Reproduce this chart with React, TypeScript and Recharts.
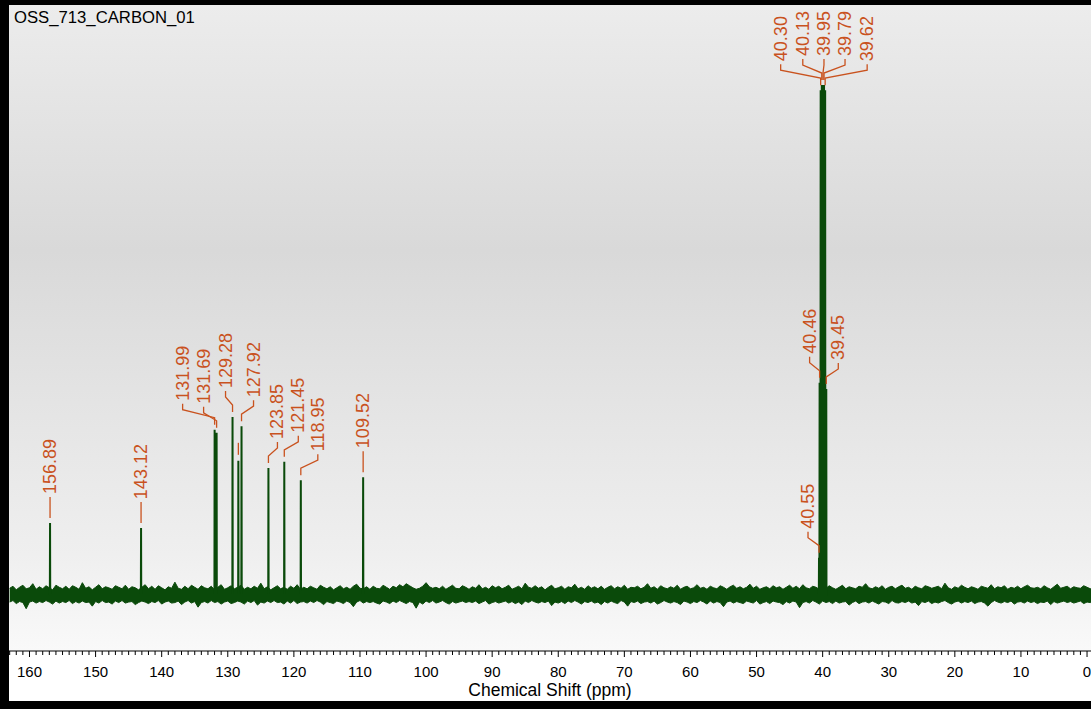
import React from "react";
import {
  ComposedChart,
  Area,
  Line,
  Scatter,
  XAxis,
  YAxis,
} from "recharts";

const FONT = "Arial, 'Liberation Sans', sans-serif";
const GREEN = "#0a4a0a";
const ORANGE = "#c9521e";

// peaks (ppm, relative height, label text)
const PEAK_PPM = [
  156.89, 143.12, 131.99, 131.69, 129.28, 128.4, 127.92, 123.85, 121.45, 118.95,
  109.52, 40.55, 40.46, 40.3, 40.13, 39.95, 39.79, 39.62, 39.45,
];
const PEAK_HEIGHT = [
  14.1, 13.1, 32.4, 31.8, 34.9, 26.3, 33.1, 24.9, 26.1, 22.5, 23.1, 7.3, 41.6, 99,
  100, 100, 100, 99, 40.4,
];
const PEAK_LABEL = [
  "156.89", "143.12", "131.99", "131.69", "129.28", "", "127.92", "123.85",
  "121.45", "118.95", "109.52", "40.55", "40.46", "40.30", "40.13", "39.95",
  "39.79", "39.62", "39.45",
];

// baseline noise envelope, one value every 0.5 ppm from 163 down to -1
const NOISE_HI = [
  1.3, 1.7, 1.0, 1.5, 1.9, 1.2, 1.4, 2.2, 1.1, 1.6,
  1.2, 1.8, 1.4, 1.0, 1.9, 1.5, 1.2, 1.7, 1.1, 1.8,
  1.5, 1.1, 2.4, 1.3, 1.6, 1.0, 1.5, 2.0, 1.2, 1.6,
  1.4, 1.1, 1.8, 1.5, 1.2, 1.9, 1.1, 1.6, 1.4, 1.0,
  1.5, 2.0, 1.2, 1.7, 1.1, 1.8, 1.4, 1.0, 1.6, 1.3,
  2.5, 1.3, 1.1, 1.7, 1.2, 1.9, 1.5, 1.1, 1.8, 1.4,
  1.2, 1.7, 1.0, 1.5, 2.0, 1.1, 1.4, 1.8, 1.2, 1.5,
  1.9, 1.1, 1.5, 1.2, 1.7, 1.3, 2.3, 1.2, 1.6, 1.0,
  1.4, 1.8, 1.2, 1.5, 1.1, 1.7, 1.3, 2.0, 1.1, 1.5,
  1.2, 1.7, 1.4, 1.1, 1.9, 1.5, 1.2, 1.6, 1.0, 1.4,
  1.8, 1.2, 1.5, 1.1, 1.7, 2.1, 1.3, 1.2, 1.6, 1.1,
  1.7, 1.3, 1.2, 1.9, 1.5, 1.1, 1.7, 1.4, 2.0, 1.6,
  2.2, 1.8, 1.4, 1.1, 1.3, 1.7, 2.4, 1.6, 1.3, 1.5,
  1.2, 1.7, 1.1, 1.5, 1.9, 1.3, 1.2, 1.8, 1.5, 1.1,
  1.6, 1.3, 2.0, 1.2, 1.5, 1.1, 1.8, 1.4, 1.7, 1.2,
  1.5, 1.9, 1.1, 1.4, 1.7, 1.2, 2.3, 1.5, 1.3, 1.8,
  1.3, 1.6, 1.0, 1.5, 1.9, 1.2, 1.4, 1.7, 1.1, 1.6,
  1.4, 2.1, 1.2, 1.5, 1.1, 1.8, 1.3, 1.6, 1.2, 1.7,
  1.1, 1.5, 1.8, 1.2, 1.6, 1.3, 1.9, 1.1, 1.5, 1.4,
  1.7, 1.2, 1.5, 2.2, 1.3, 1.6, 1.1, 1.8, 1.4, 1.2,
  1.6, 1.3, 1.9, 1.1, 1.5, 1.7, 1.2, 1.4, 2.0, 1.3,
  1.5, 1.1, 1.7, 1.4, 1.2, 1.8, 1.5, 1.1, 1.6, 1.9,
  1.3, 1.6, 1.2, 1.5, 2.1, 1.3, 1.7, 1.1, 1.4, 1.6,
  1.2, 1.8, 1.4, 1.6, 1.1, 1.5, 1.9, 1.3, 1.7, 1.2,
  2.0, 1.4, 1.2, 1.7, 1.5, 1.1, 1.6, 1.3, 1.8, 1.4,
  1.1, 1.5, 1.9, 1.2, 1.6, 1.4, 1.2, 1.7, 1.5, 2.2,
  1.4, 1.2, 1.6, 1.3, 1.8, 1.1, 1.5, 1.7, 1.2, 1.6,
  1.9, 1.3, 1.5, 1.1, 1.7, 1.4, 1.2, 1.8, 1.6, 1.3,
  1.5, 1.7, 1.2, 2.3, 1.4, 1.1, 1.6, 1.3, 1.9, 1.5,
  1.2, 1.6, 1.4, 1.1, 1.7, 1.5, 1.3, 2.0, 1.2, 1.6,
  1.4, 1.8, 1.1, 1.5, 1.3, 1.7, 1.2, 1.6, 1.9, 1.4,
  1.3, 1.5, 1.2, 1.8, 1.4, 1.1, 1.6, 2.1, 1.3, 1.5,
  1.7, 1.2, 1.6, 1.4, 1.3, 1.8, 1.5, 1.2, 1.5,
];
const NOISE_LO = [
  -1.4, -1.1, -1.7, -1.3, -1.5, -2.7, -1.4, -1.2, -1.6, -1.3,
  -1.5, -1.1, -1.4, -1.8, -1.2, -1.6, -1.3, -1.5, -1.1, -1.7,
  -1.3, -1.6, -1.2, -1.5, -1.4, -2.2, -1.3, -1.6, -1.1, -1.5,
  -1.4, -1.8, -1.2, -1.5, -1.1, -1.6, -1.4, -1.3, -1.9, -1.5,
  -1.2, -1.4, -1.7, -1.3, -1.5, -1.1, -1.8, -1.4, -1.2, -1.6,
  -1.5, -1.2, -1.9, -1.4, -1.1, -1.6, -1.3, -2.4, -1.5, -1.3,
  -1.6, -1.1, -1.5, -1.3, -1.8, -1.4, -1.2, -1.7, -1.5, -1.2,
  -1.4, -1.8, -1.2, -1.5, -1.1, -2.0, -1.4, -1.6, -1.2, -1.5,
  -1.1, -1.5, -1.4, -1.8, -1.2, -1.6, -1.1, -1.7, -1.4, -1.3,
  -1.6, -1.2, -1.5, -1.1, -1.4, -1.9, -1.3, -1.5, -1.7, -1.2,
  -1.4, -1.7, -1.2, -1.5, -2.3, -1.4, -1.1, -1.6, -1.3, -1.5,
  -1.3, -1.6, -1.8, -1.2, -1.4, -1.7, -1.2, -1.5, -1.1, -1.4,
  -1.7, -1.3, -1.5, -2.6, -1.4, -1.8, -1.2, -1.5, -1.1, -1.6,
  -1.4, -1.1, -1.5, -1.8, -1.3, -1.6, -1.4, -1.2, -1.5, -1.3,
  -1.5, -1.2, -1.7, -1.4, -1.1, -1.8, -1.5, -1.3, -1.6, -1.4,
  -1.2, -1.6, -1.3, -1.7, -1.4, -1.9, -1.2, -1.5, -1.1, -1.4,
  -1.6, -1.3, -1.5, -1.2, -2.1, -1.4, -1.6, -1.3, -1.7, -1.2,
  -1.5, -1.1, -1.4, -1.8, -1.3, -1.5, -1.2, -1.6, -1.4, -1.9,
  -1.3, -1.6, -1.2, -1.5, -1.7, -1.1, -1.4, -2.2, -1.3, -1.5,
  -1.2, -1.7, -1.4, -1.3, -1.6, -1.2, -1.8, -1.5, -1.1, -1.4,
  -1.6, -1.3, -1.5, -1.9, -1.2, -1.4, -1.7, -1.3, -1.5, -1.1,
  -1.4, -1.8, -1.2, -1.6, -1.3, -1.5, -2.3, -1.4, -1.2, -1.6,
  -1.3, -1.5, -1.7, -1.2, -1.4, -1.6, -1.1, -1.8, -1.5, -1.3,
  -1.7, -1.2, -1.4, -1.5, -1.9, -1.3, -1.6, -1.2, -1.4, -2.5,
  -1.5, -1.3, -1.6, -1.1, -1.4, -1.8, -1.2, -1.5, -1.3, -1.7,
  -1.2, -1.6, -1.4, -1.3, -2.0, -1.5, -1.2, -1.7, -1.4, -1.3,
  -1.6, -1.2, -1.5, -1.8, -1.3, -1.4, -1.7, -1.1, -1.5, -1.6,
  -1.3, -1.5, -1.2, -1.6, -1.4, -2.1, -1.3, -1.5, -1.2, -1.7,
  -1.4, -1.6, -1.3, -1.1, -1.5, -1.8, -1.4, -1.2, -1.6, -1.3,
  -1.5, -1.2, -1.7, -1.4, -1.3, -1.6, -2.2, -1.5, -1.1, -1.4,
  -1.6, -1.3, -1.5, -1.2, -1.8, -1.4, -1.3, -1.6, -1.2, -1.5,
  -1.3, -1.7, -1.4, -1.5, -1.2, -1.9, -1.3, -1.6, -1.4, -1.2,
  -1.5, -1.3, -1.6, -1.4, -1.2, -1.7, -1.4, -1.5, -1.3,
];
const NOISE_START_PPM = 163;
const NOISE_STEP_PPM = 0.5;

const X_TICKS = Array.from({ length: 164 }, (_, i) => i);

// label placement: horizontal shift (px) of each label from its peak
const LABEL_SHIFT = [0, 0, -32, -13, -7, 0, 12, 9, 14, 17, 0, -11, -10, -40, -19, 1, 21, 42, 12];

const noiseData = NOISE_HI.map((hi, i) => ({
  ppm: NOISE_START_PPM - i * NOISE_STEP_PPM,
  band: [NOISE_LO[i], hi],
}));

const peakLine = PEAK_PPM.flatMap((ppm, i) => [
  { ppm: ppm + 0.03, h: 0 },
  { ppm, h: PEAK_HEIGHT[i] },
  { ppm: ppm - 0.03, h: 0 },
]);

const labelData = PEAK_PPM.map((ppm, i) => ({
  ppm,
  h: PEAK_HEIGHT[i],
  label: PEAK_LABEL[i],
  shift: LABEL_SHIFT[i],
}));

function PeakLabel(props: any) {
  const { cx, cy, payload } = props;
  if (cx == null || cy == null) return null;
  const dx = payload.shift;
  if (!payload.label) {
    return (
      <path d={`M${cx},${cy - 6}V${cy - 18}`} stroke={ORANGE} strokeWidth={1.3} fill="none" />
    );
  }
  const d =
    dx === 0
      ? `M${cx},${cy - 5}V${cy - 26}`
      : `M${cx},${cy - 5}V${cy - 12}L${cx + dx},${cy - 20}V${cy - 26}`;
  const tx = cx + dx;
  const ty = cy - 29;
  return (
    <g>
      <path d={d} stroke={ORANGE} strokeWidth={1.3} fill="none" />
      <text
        x={tx}
        y={ty}
        transform={`rotate(-90 ${tx} ${ty})`}
        textAnchor="start"
        dominantBaseline="central"
        fontSize={18}
        fontFamily={FONT}
        fill={ORANGE}
      >
        {payload.label}
      </text>
    </g>
  );
}

function PpmTick(props: any) {
  const { x, y, payload } = props;
  const v = payload.value;
  const major = v % 10 === 0;
  return (
    <g>
      <line x1={x} x2={x} y1={y} y2={y + (major ? 6 : 4)} stroke="#000" strokeWidth={1} />
      {major && (
        <text x={x} y={y + 26} textAnchor="middle" fontSize={15} fontFamily={FONT} fill="#000">
          {v}
        </text>
      )}
    </g>
  );
}

export default function App() {
  return (
    <div
      style={{
        position: "absolute",
        left: 0,
        top: 0,
        width: 1091,
        height: 709,
        background: "#000",
        overflow: "hidden",
        fontFamily: FONT,
      }}
    >
      <div
        style={{
          position: "absolute",
          left: 9,
          top: 5,
          width: 1082,
          height: 696,
          background: "#fff",
        }}
      >
        <div
          style={{
            position: "absolute",
            left: 0,
            top: 0,
            width: 1082,
            height: 646,
            background:
              "linear-gradient(to bottom, #ececec 0%, #d9d9d9 38%, #efefef 85%, #f9f9f9 100%)",
          }}
        />
        <ComposedChart
          width={1082}
          height={696}
          margin={{ top: 0, right: 0, bottom: 0, left: 0 }}
          style={{ position: "absolute", left: 0, top: 0 }}
        >
          <XAxis
            dataKey="ppm"
            type="number"
            domain={[-0.6, 163.1]}
            allowDataOverflow
            reversed
            ticks={X_TICKS}
            interval={0}
            tickSize={0}
            tickMargin={0}
            tickLine={false}
            tick={<PpmTick />}
            axisLine={{ stroke: "#000", strokeWidth: 1 }}
            height={50}
            label={{
              value: "Chemical Shift (ppm)",
              position: "insideBottom",
              offset: 5,
              fontSize: 17.5,
              fontFamily: FONT,
              fill: "#000",
            }}
          />
          <YAxis
            hide
            dataKey="h"
            type="number"
            domain={[-11, 115.7]}
            allowDataOverflow
          />
          <Area
            data={noiseData}
            dataKey="band"
            type="linear"
            stroke={GREEN}
            strokeWidth={1}
            fill={GREEN}
            fillOpacity={1}
            isAnimationActive={false}
          />
          <Line
            data={peakLine}
            dataKey="h"
            type="linear"
            stroke={GREEN}
            strokeWidth={2}
            dot={false}
            isAnimationActive={false}
          />
          <Scatter
            data={labelData}
            dataKey="h"
            shape={(p: any) => <PeakLabel {...p} />}
            isAnimationActive={false}
          />
        </ComposedChart>
        <div
          style={{
            position: "absolute",
            left: 5,
            top: 5,
            fontSize: 16.7,
            lineHeight: 1,
            color: "#000",
            whiteSpace: "nowrap",
          }}
        >
          OSS_713_CARBON_01
        </div>
      </div>
    </div>
  );
}
